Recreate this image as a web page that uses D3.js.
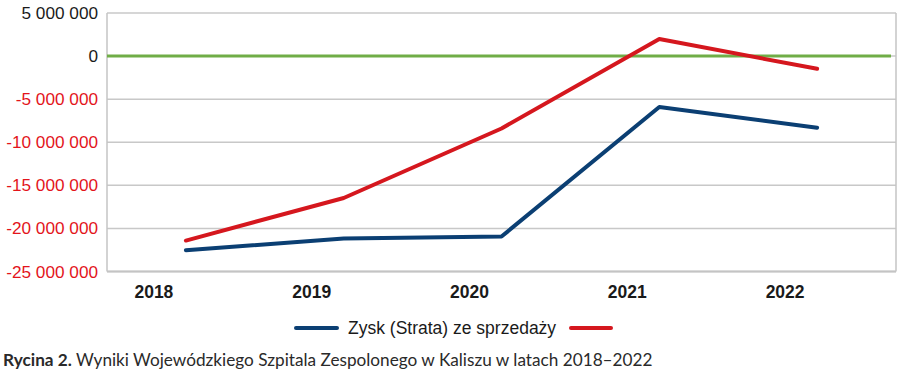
<!DOCTYPE html>
<html>
<head>
<meta charset="utf-8">
<script src="https://cdn.jsdelivr.net/npm/d3@7"></script>
<style>
  body { margin: 0; background: #fff; }
  svg { display: block; }
</style>
</head>
<body>
<div id="chart"></div>
<script>
// values (PLN)
const years = ['2018', '2019', '2020', '2021', '2022']
const zyskSprzedazy = [-22530000, -21180000, -20940000, -5910000, -8310000]
const drugaSeria = [-21410000, -16470000, -8400000, 1980000, -1480000]
const yTicks = [5000000, 0, -5000000, -10000000, -15000000, -20000000, -25000000]

const width = 900, height = 373
const plotLeft = 107, plotRight = 896, plotTop = 13, plotBottom = 271.5

const svg = d3.select('#chart').append('svg')
  .attr('width', width)
  .attr('height', height)
  .style('font-family', 'Liberation Sans, Arial, sans-serif')

const x = d3.scaleBand()
  .domain(years)
  .range([plotLeft, plotRight])

const y = d3.scaleLinear()
  .domain([-25000000, 5000000])
  .range([plotBottom, plotTop])

const fmt = v => d3.format(',')(v).replace(/,/g, ' ').replace('−', '-')

// gridlines
svg.append('g')
  .selectAll('line')
  .data(yTicks)
  .enter()
  .append('line')
  .attr('x1', plotLeft)
  .attr('x2', plotRight)
  .attr('y1', d => y(d))
  .attr('y2', d => y(d))
  .attr('stroke', '#c8c8c8')
  .attr('stroke-width', 1.5)

// frame sides
svg.append('line')
  .attr('x1', plotLeft).attr('x2', plotLeft)
  .attr('y1', plotTop).attr('y2', plotBottom)
  .attr('stroke', '#c4c4c4').attr('stroke-width', 1.5)
svg.append('line')
  .attr('x1', plotRight).attr('x2', plotRight)
  .attr('y1', plotTop).attr('y2', plotBottom)
  .attr('stroke', '#c4c4c4').attr('stroke-width', 1.5)
svg.append('line')
  .attr('x1', plotLeft).attr('x2', plotRight)
  .attr('y1', plotBottom).attr('y2', plotBottom)
  .attr('stroke', '#c4c4c4').attr('stroke-width', 2)

// zero line
svg.append('line')
  .attr('x1', plotLeft).attr('x2', plotRight - 5)
  .attr('y1', y(0)).attr('y2', y(0))
  .attr('stroke', '#70ad47')
  .attr('stroke-width', 3)

// y labels
svg.append('g')
  .selectAll('text')
  .data(yTicks)
  .enter()
  .append('text')
  .attr('x', 98)
  .attr('y', d => y(d))
  .attr('dy', '0.35em')
  .attr('text-anchor', 'end')
  .style('font-size', '17.2px')
  .attr('fill', d => d < 0 ? '#e3141b' : '#1a1a1a')
  .text(d => fmt(d))

// x labels (sit left of the points, as in the original)
svg.append('g')
  .selectAll('text')
  .data(years)
  .enter()
  .append('text')
  .attr('x', d => x(d) + x.bandwidth() / 2 - 32)
  .attr('y', 298)
  .attr('text-anchor', 'middle')
  .style('font-size', '17.5px')
  .style('font-weight', 'bold')
  .attr('fill', '#1a1a1a')
  .text(d => d)

const line = d3.line()
  .x((d, i) => x(years[i]) + x.bandwidth() / 2)
  .y(d => y(d))

svg.append('path')
  .datum(zyskSprzedazy)
  .attr('d', line)
  .attr('fill', 'none')
  .attr('stroke', '#0b3f73')
  .attr('stroke-width', 4)
  .attr('stroke-linecap', 'round')
  .attr('stroke-linejoin', 'round')

svg.append('path')
  .datum(drugaSeria)
  .attr('d', line)
  .attr('fill', 'none')
  .attr('stroke', '#d5171e')
  .attr('stroke-width', 4)
  .attr('stroke-linecap', 'round')
  .attr('stroke-linejoin', 'round')

// legend
const lg = svg.append('g')
lg.append('line')
  .attr('x1', 296).attr('x2', 337)
  .attr('y1', 328).attr('y2', 328)
  .attr('stroke', '#0b3f73').attr('stroke-width', 4).attr('stroke-linecap', 'round')
lg.append('text')
  .attr('x', 348).attr('y', 334)
  .style('font-size', '17.5px')
  .attr('fill', '#1a1a1a')
  .text('Zysk (Strata) ze sprzedaży')
lg.append('line')
  .attr('x1', 571).attr('x2', 611)
  .attr('y1', 328).attr('y2', 328)
  .attr('stroke', '#d5171e').attr('stroke-width', 4).attr('stroke-linecap', 'round')

// caption
const cap = svg.append('text')
  .attr('x', 3)
  .attr('y', 366)
  .style('font-family', 'Lato, Open Sans, sans-serif')
  .style('font-size', '17.2px')
  .attr('fill', '#2a2a2a')
cap.append('tspan').style('font-weight', 'bold').text('Rycina 2.')
cap.append('tspan').text(' Wyniki Wojewódzkiego Szpitala Zespolonego w Kaliszu w latach 2018–2022')
</script>
</body>
</html>
